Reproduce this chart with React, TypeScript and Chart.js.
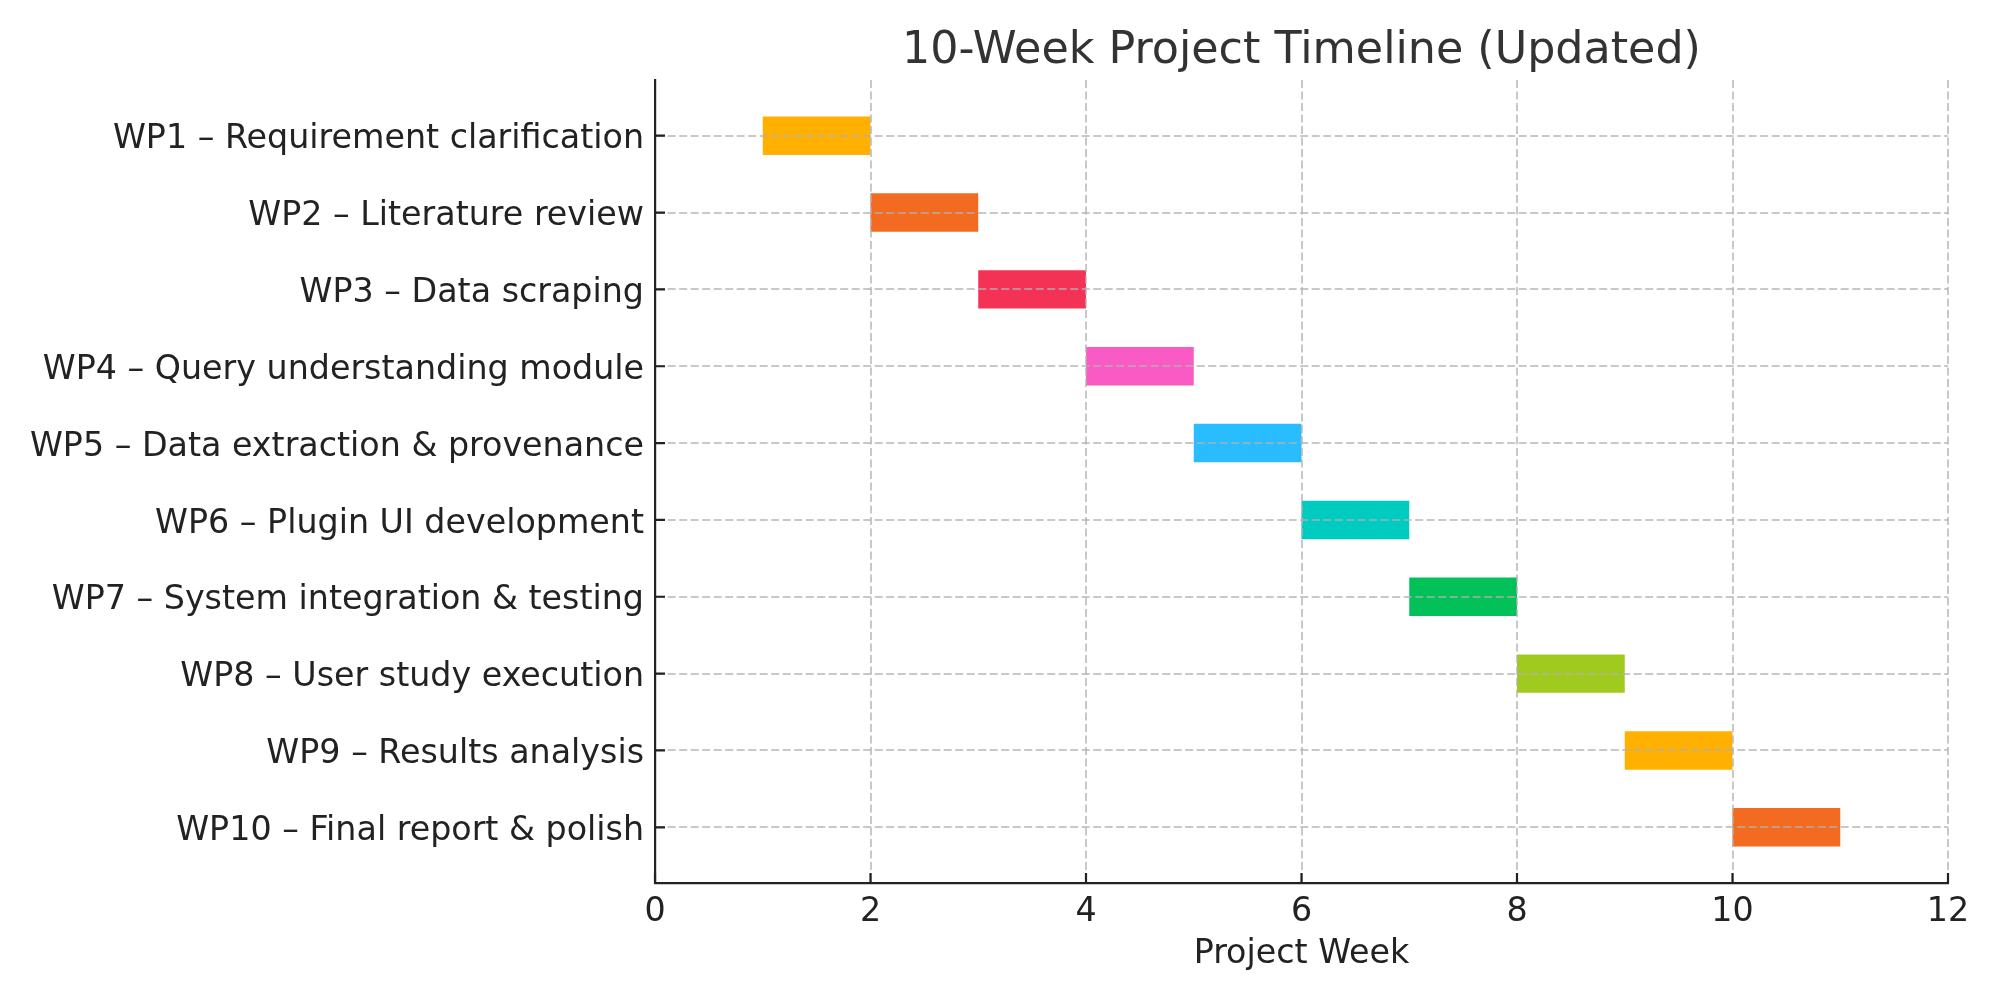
import React, { useEffect, useRef } from "react";
import { Chart, registerables } from "chart.js";

Chart.register(...registerables);

const titleText = "10-Week Project Timeline (Updated)";
const xAxisTitle = "Project Week";
const tasks = [
  "WP1 – Requirement clarification",
  "WP2 – Literature review",
  "WP3 – Data scraping",
  "WP4 – Query understanding module",
  "WP5 – Data extraction & provenance",
  "WP6 – Plugin UI development",
  "WP7 – System integration & testing",
  "WP8 – User study execution",
  "WP9 – Results analysis",
  "WP10 – Final report & polish",
];
const startWeeks = [1, 2, 3, 4, 5, 6, 7, 8, 9, 10];
const endWeeks = [2, 3, 4, 5, 6, 7, 8, 9, 10, 11];
const barColors = [
  "#FFB000",
  "#F26B21",
  "#F43256",
  "#FA5AC3",
  "#29BCFE",
  "#00CBC1",
  "#02C158",
  "#A0CA1E",
  "#FFB000",
  "#F26B21",
];
const xTicks = [0, 2, 4, 6, 8, 10, 12];

const FONT = "'DejaVu Sans', sans-serif";
const TEXT = "#222222";
const AXIS = "#222222";
const GRID = "rgba(176,176,176,0.7)";
const FS = 33.3;

const extrasPlugin = {
  id: "extras",
  afterDraw(chart: any) {
    const { ctx, chartArea, scales } = chart;
    const x = scales.x;
    const y = scales.y;
    ctx.save();
    // inward tick marks
    ctx.strokeStyle = AXIS;
    ctx.lineWidth = 2.2;
    ctx.beginPath();
    xTicks.forEach((v) => {
      const px = x.getPixelForValue(v);
      ctx.moveTo(px, chartArea.bottom);
      ctx.lineTo(px, chartArea.bottom - 10);
    });
    tasks.forEach((_, i) => {
      const py = y.getPixelForValue(i);
      ctx.moveTo(chartArea.left, py);
      ctx.lineTo(chartArea.left + 10, py);
    });
    ctx.stroke();
    // title
    ctx.fillStyle = "#333333";
    ctx.font = `44.4px ${FONT}`;
    ctx.textAlign = "center";
    ctx.textBaseline = "alphabetic";
    ctx.fillText(titleText, (chartArea.left + chartArea.right) / 2, 63);
    ctx.restore();
  },
};

export default function App() {
  const ref = useRef<HTMLCanvasElement | null>(null);

  useEffect(() => {
    if (!ref.current) return;
    Chart.defaults.font.family = FONT;
    const chart = new Chart(ref.current, {
      type: "bar",
      data: {
        datasets: [
          {
            data: tasks.map((_, i) => ({ x: [startWeeks[i], endWeeks[i]], y: i })) as any,
            backgroundColor: barColors,
            borderWidth: 0,
            categoryPercentage: 1,
            barPercentage: 0.5,
          },
        ],
      },
      options: {
        indexAxis: "y",
        animation: false,
        responsive: false,
        devicePixelRatio: 1,
        layout: { padding: { top: 80, right: 52, left: 0, bottom: 0 } },
        plugins: {
          legend: { display: false },
          tooltip: { enabled: false },
          title: { display: false },
        },
        scales: {
          x: {
            type: "linear",
            min: 0,
            max: 12,
            offset: false,
            afterBuildTicks: (scale: any) => {
              scale.ticks = xTicks.map((v) => ({ value: v }));
            },
            afterFit: (scale: any) => {
              scale.height = 117;
            },
            ticks: {
              color: TEXT,
              font: { size: FS },
              padding: 9,
              maxRotation: 0,
              autoSkip: false,
            },
            grid: {
              color: GRID,
              lineWidth: 2,
              drawTicks: false,
              z: 1,
            },
            border: {
              display: true,
              color: AXIS,
              width: 2.2,
              dash: [8, 3.5],
              z: 1,
            },
            title: {
              display: true,
              text: xAxisTitle,
              color: TEXT,
              font: { size: FS },
              padding: { top: 0, bottom: 26 },
            },
          },
          y: {
            type: "linear",
            min: -0.725,
            max: 9.725,
            reverse: true,
            offset: false,
            afterBuildTicks: (scale: any) => {
              scale.ticks = tasks.map((_, i) => ({ value: i }));
            },
            afterFit: (scale: any) => {
              scale.width = 655;
            },
            ticks: {
              color: TEXT,
              font: { size: FS },
              padding: 11,
              labelOffset: 4,
              autoSkip: false,
              callback: (v: any) => tasks[Math.round(Number(v))] ?? "",
            },
            grid: {
              color: GRID,
              lineWidth: 2,
              drawTicks: false,
              offset: false,
              z: 1,
            },
            border: {
              display: true,
              color: AXIS,
              width: 2.2,
              dash: [8, 3.5],
              z: 1,
            },
          },
        },
      },
      plugins: [extrasPlugin],
    } as any);
    return () => chart.destroy();
  }, []);

  return (
    <div style={{ position: "fixed", left: 0, top: 0, width: 2000, height: 1000, background: "#fff" }}>
      <canvas ref={ref} width={2000} height={1000} style={{ display: "block" }} />
    </div>
  );
}
